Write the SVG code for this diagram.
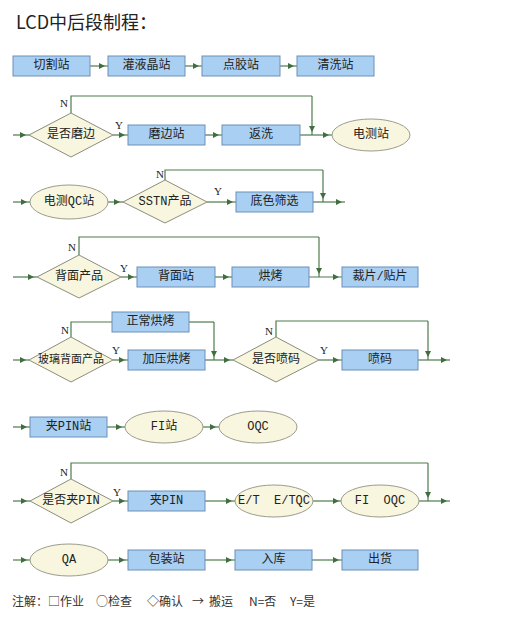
<svg xmlns="http://www.w3.org/2000/svg" width="520" height="621" viewBox="0 0 520 621">
<style>
.box{fill:#a9cff3;stroke:#6d8fb6;stroke-width:1}
.ell{fill:#f8f6de;stroke:#9c9c8c;stroke-width:1}
.dia{fill:#f8f6de;stroke:#8c8c7c;stroke-width:1}
.c{fill:none;stroke:#4c7c4c;stroke-width:1.2}
.a{marker-end:url(#ah)}
.t{font-family:"Liberation Mono","Noto Sans CJK SC",monospace;font-size:12px;text-anchor:middle;dominant-baseline:central;fill:#222}
.yn{font-family:"Liberation Serif",serif;font-size:11px;fill:#222;text-anchor:middle}
.lg{font-family:"Noto Sans CJK SC",sans-serif;font-size:12px;fill:#333}
</style>
<defs>
<marker id="ah" markerWidth="10" markerHeight="8" refX="9" refY="3" orient="auto" markerUnits="userSpaceOnUse">
<path d="M0,0 L6,3 L0,6 z" fill="#3f6f3f"/>
</marker>
</defs>
<rect width="520" height="621" fill="#ffffff"/>
<text x="16" y="29" font-family="'Noto Sans CJK SC',sans-serif" font-size="18" fill="#222">LCD中后段制程：</text>

<g id="connectors">
<!-- row1 -->
<path class="c a" d="M90,66 H108"/>
<path class="c a" d="M185,66 H202"/>
<path class="c a" d="M280,66 H297"/>
<!-- row2 -->
<path class="c a" d="M13,135 H29"/>
<path class="c" d="M71,113 V96 H312"/>
<path class="c a" d="M312,96 V135"/>
<path class="c a" d="M113,135 H128"/>
<path class="c a" d="M205,135 H222"/>
<path class="c a" d="M300,135 H332"/>
<!-- row3 -->
<path class="c a" d="M13,202 H30"/>
<path class="c a" d="M108,202 H123"/>
<path class="c" d="M165,180 V170 H323"/>
<path class="c a" d="M323,170 V202"/>
<path class="c a" d="M207,202 H236"/>
<path class="c a" d="M313,202 H345"/>
<!-- row4 -->
<path class="c a" d="M13,277 H37"/>
<path class="c" d="M79,255 V237 H319"/>
<path class="c a" d="M319,237 V277"/>
<path class="c a" d="M121,277 H137"/>
<path class="c a" d="M215,277 H232"/>
<path class="c a" d="M309,277 H342"/>
<!-- row5 -->
<path class="c a" d="M13,360 H29"/>
<path class="c" d="M71,337 V322 H112"/>
<path class="c" d="M189,322 H214"/>
<path class="c a" d="M214,322 V360"/>
<path class="c a" d="M113,360 H128"/>
<path class="c a" d="M205,360 H233"/>
<path class="c" d="M276,337 V321 H428"/>
<path class="c a" d="M428,321 V360"/>
<path class="c a" d="M319,360 H342"/>
<path class="c a" d="M418,360 H450"/>
<!-- row6 -->
<path class="c a" d="M13,427 H30"/>
<path class="c a" d="M107,427 H125"/>
<path class="c a" d="M203,427 H219"/>
<!-- row7 -->
<path class="c a" d="M13,501 H30"/>
<path class="c" d="M71,479 V463 H428"/>
<path class="c a" d="M428,463 V501"/>
<path class="c a" d="M113,501 H128"/>
<path class="c a" d="M205,501 H235"/>
<path class="c a" d="M313,501 H342"/>
<path class="c a" d="M419,501 H450"/>
<!-- row8 -->
<path class="c a" d="M13,560 H30"/>
<path class="c a" d="M108,560 H128"/>
<path class="c a" d="M205,560 H235"/>
<path class="c a" d="M312,560 H342"/>
</g>

<g id="yn-labels">
<text class="yn" x="64" y="107">N</text>
<text class="yn" x="119" y="129">Y</text>
<text class="yn" x="160" y="178">N</text>
<text class="yn" x="218" y="195">Y</text>
<text class="yn" x="72" y="251">N</text>
<text class="yn" x="124" y="272">Y</text>
<text class="yn" x="65" y="334">N</text>
<text class="yn" x="116" y="354">Y</text>
<text class="yn" x="269" y="335">N</text>
<text class="yn" x="324" y="354">Y</text>
<text class="yn" x="64" y="476">N</text>
<text class="yn" x="117" y="496">Y</text>
</g>

<!-- row1 -->
<g id="n-qiegezhan"><rect class="box" x="13" y="56" width="77" height="20"/><text class="t" x="51.5" y="66">切割站</text></g>
<g id="n-guanyejingzhan"><rect class="box" x="108" y="56" width="77" height="20"/><text class="t" x="146.5" y="66">灌液晶站</text></g>
<g id="n-dianjiaozhan"><rect class="box" x="202" y="56" width="78" height="20"/><text class="t" x="241" y="66">点胶站</text></g>
<g id="n-qingxizhan"><rect class="box" x="297" y="56" width="77" height="20"/><text class="t" x="335.5" y="66">清洗站</text></g>
<!-- row2 -->
<g id="d-shifoumobian"><polygon class="dia" points="29,135 71,113 113,135 71,157"/><text class="t" x="71" y="135">是否磨边</text></g>
<g id="n-mobianzhan"><rect class="box" x="128" y="125" width="77" height="20"/><text class="t" x="166.5" y="135">磨边站</text></g>
<g id="n-fanxi"><rect class="box" x="222" y="125" width="78" height="20"/><text class="t" x="261" y="135">返洗</text></g>
<g id="e-diancezhan"><ellipse class="ell" cx="371" cy="135" rx="39" ry="16"/><text class="t" x="371" y="135">电测站</text></g>
<!-- row3 -->
<g id="e-dianceqc"><ellipse class="ell" cx="69" cy="202" rx="39" ry="17"/><text class="t" x="69" y="202">电测QC站</text></g>
<g id="d-sstn"><polygon class="dia" points="123,202 165,180 207,202 165,223"/><text class="t" x="165" y="202">SSTN产品</text></g>
<g id="n-diseshaixuan"><rect class="box" x="236" y="192" width="77" height="20"/><text class="t" x="274.5" y="202">底色筛选</text></g>
<!-- row4 -->
<g id="d-beimianchanpin"><polygon class="dia" points="37,277 79,255 121,277 79,298"/><text class="t" x="79" y="277">背面产品</text></g>
<g id="n-beimianzhan"><rect class="box" x="137" y="267" width="78" height="20"/><text class="t" x="176" y="277">背面站</text></g>
<g id="n-hongkao"><rect class="box" x="232" y="267" width="77" height="20"/><text class="t" x="270.5" y="277">烘烤</text></g>
<g id="n-caipian"><rect class="box" x="342" y="267" width="76" height="20"/><text class="t" x="380" y="277">裁片/贴片</text></g>
<!-- row5 -->
<g id="d-boli"><polygon class="dia" points="29,360 71,337 113,360 71,382"/><text class="t" x="71" y="360" style="font-size:11px">玻璃背面产品</text></g>
<g id="n-zhengchang"><rect class="box" x="112" y="312" width="77" height="20"/><text class="t" x="150.5" y="322">正常烘烤</text></g>
<g id="n-jiaya"><rect class="box" x="128" y="350" width="77" height="20"/><text class="t" x="166.5" y="360">加压烘烤</text></g>
<g id="d-penma"><polygon class="dia" points="233,360 276,337 319,360 276,382"/><text class="t" x="276" y="360">是否喷码</text></g>
<g id="n-penma"><rect class="box" x="342" y="350" width="76" height="20"/><text class="t" x="380" y="360">喷码</text></g>
<!-- row6 -->
<g id="n-jiapinzhan"><rect class="box" x="30" y="417" width="77" height="20"/><text class="t" x="68.5" y="427">夹PIN站</text></g>
<g id="e-fizhan"><ellipse class="ell" cx="164" cy="427" rx="39" ry="16"/><text class="t" x="164" y="427">FI站</text></g>
<g id="e-oqc"><ellipse class="ell" cx="258" cy="427" rx="39" ry="16"/><text class="t" x="258" y="427">OQC</text></g>
<!-- row7 -->
<g id="d-jiapin"><polygon class="dia" points="30,501 71,479 113,501 71,523"/><text class="t" x="71" y="501">是否夹PIN</text></g>
<g id="n-jiapin"><rect class="box" x="128" y="491" width="77" height="20"/><text class="t" x="166.5" y="501">夹PIN</text></g>
<g id="e-et"><ellipse class="ell" cx="274" cy="501" rx="39" ry="16"/><text class="t" x="274" y="501" xml:space="preserve">E/T  E/TQC</text></g>
<g id="e-fioqc"><ellipse class="ell" cx="380" cy="501" rx="39" ry="16"/><text class="t" x="380" y="501" xml:space="preserve">FI  OQC</text></g>
<!-- row8 -->
<g id="e-qa"><ellipse class="ell" cx="69" cy="560" rx="39" ry="16"/><text class="t" x="69" y="560">QA</text></g>
<g id="n-baozhuang"><rect class="box" x="128" y="550" width="77" height="20"/><text class="t" x="166.5" y="560">包装站</text></g>
<g id="n-ruku"><rect class="box" x="235" y="550" width="77" height="20"/><text class="t" x="273.5" y="560">入库</text></g>
<g id="n-chuhuo"><rect class="box" x="342" y="550" width="76" height="20"/><text class="t" x="380" y="560">出货</text></g>

<g id="legend">
<text class="lg" y="606"><tspan x="12">注解：</tspan><tspan x="48">□作业</tspan><tspan x="96">○检查</tspan><tspan x="147">◇确认</tspan><tspan x="192">→</tspan><tspan x="209">搬运</tspan><tspan x="249">N=否</tspan><tspan x="290">Y=是</tspan></text>
</g>
</svg>
